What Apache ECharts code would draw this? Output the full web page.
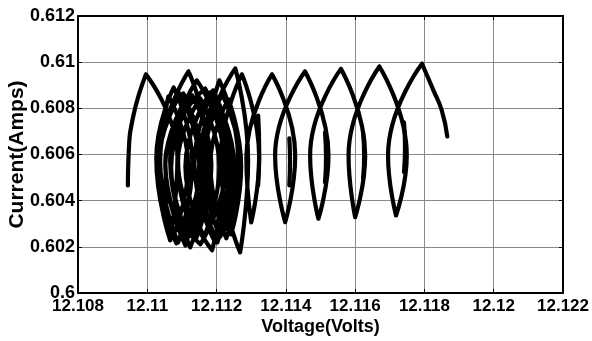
<!DOCTYPE html>
<html><head><meta charset="utf-8">
<script src="https://cdn.jsdelivr.net/npm/echarts@6/dist/echarts.min.js"></script>
<style>html,body{margin:0;padding:0;background:#fff}#c{width:592px;height:341px}</style>
</head><body><div id="c"></div>
<script>
const xTickLabels = ['12.108','12.11','12.112','12.114','12.116','12.118','12.12','12.122'];
const yTickLabels = ['0.6','0.602','0.604','0.606','0.608','0.61','0.612'];
const xMin = 12.108, xMax = 12.122, xStep = 0.002;
const yMin = 0.6, yMax = 0.612, yStep = 0.002;

// trace of the measured (voltage, current) points, in path order
const voltage = [
  12.10944, 12.10946, 12.10960, 12.10996,
  12.11087, 12.11066, 12.11026, 12.11076,
  12.11130, 12.11089, 12.11037, 12.11119,
  12.11176, 12.11124, 12.11066, 12.11143,
  12.11222, 12.11187, 12.11089, 12.11104,
  12.11153, 12.11084, 12.11032, 12.11089,
  12.11150, 12.11110, 12.11052, 12.11167,
  12.11228, 12.11153, 12.11037, 12.11061,
  12.11118, 12.11072, 12.11032, 12.11095,
  12.11150, 12.11104, 12.11052, 12.11110,
  12.11164, 12.11121, 12.11069, 12.11130,
  12.11185, 12.11141, 12.11087, 12.11153,
  12.11208, 12.11164, 12.11110, 12.11182,
  12.11237, 12.11193, 12.11136, 12.11190,
  12.11245, 12.11202, 12.11150, 12.11196,
  12.11251, 12.11211, 12.11162, 12.11216,
  12.11268, 12.11228, 12.11182, 12.11234,
  12.11271, 12.11242, 12.11164, 12.11208,
  12.11262, 12.11234, 12.11164, 12.11254,
  12.11291, 12.11268, 12.11211, 12.11273,
  12.11323, 12.11300, 12.11286, 12.11360,
  12.11427, 12.11398, 12.11369, 12.11455,
  12.11523, 12.11494, 12.11470, 12.11559,
  12.11629, 12.11600, 12.11581, 12.11670,
  12.11749, 12.11718, 12.11695, 12.11793,
  12.11826, 12.11850, 12.11866
];
const current = [
  0.60466, 0.60596, 0.60769, 0.60947,
  0.60587, 0.60228, 0.60583, 0.60890,
  0.60566, 0.60219, 0.60574, 0.60960,
  0.60583, 0.60198, 0.60574, 0.60921,
  0.60574, 0.60185, 0.60566, 0.60865,
  0.60553, 0.60215, 0.60553, 0.60873,
  0.60566, 0.60206, 0.60566, 0.60886,
  0.60566, 0.60211, 0.60557, 0.60852,
  0.60553, 0.60237, 0.60548, 0.60860,
  0.60557, 0.60228, 0.60553, 0.60834,
  0.60544, 0.60245, 0.60544, 0.60856,
  0.60553, 0.60237, 0.60553, 0.60843,
  0.60548, 0.60245, 0.60548, 0.60869,
  0.60561, 0.60228, 0.60561, 0.60877,
  0.60561, 0.60219, 0.60561, 0.60847,
  0.60548, 0.60245, 0.60548, 0.60860,
  0.60557, 0.60237, 0.60557, 0.60839,
  0.60548, 0.60254, 0.60548, 0.60921,
  0.60583, 0.60284, 0.60583, 0.60973,
  0.60574, 0.60176, 0.60574, 0.60947,
  0.60587, 0.60306, 0.60587, 0.60947,
  0.60596, 0.60307, 0.60596, 0.60960,
  0.60596, 0.60322, 0.60596, 0.60971,
  0.60596, 0.60329, 0.60596, 0.60981,
  0.60596, 0.60336, 0.60596, 0.60993,
  0.60878, 0.60791, 0.60678
];

// short retrace strokes seen inside the right-hand loops (3 points each: top, middle, bottom)
const spurVoltage = [
  12.11320, 12.11323, 12.11320,
  12.11410, 12.11412, 12.11410,
  12.11513, 12.11516, 12.11513,
  12.11623, 12.11626, 12.11623,
  12.11741, 12.11744, 12.11741
];
const spurCurrent = [
  0.60769, 0.60618, 0.60466,
  0.60670, 0.60574, 0.60466,
  0.60696, 0.60587, 0.60479,
  0.60696, 0.60596, 0.60497,
  0.60739, 0.60631, 0.60523
];

// split the trace at its cusps (turning points of the current) so each arc is smoothed on its own
const traceData = [];
for (let i = 0; i < voltage.length; i++) {
  traceData.push([voltage[i], current[i]]);
  const turning = i > 0 && i < voltage.length - 1 &&
    (current[i] - current[i - 1]) * (current[i + 1] - current[i]) < 0;
  if (turning) {
    traceData.push(['-', '-']);
    traceData.push([voltage[i], current[i]]);
  }
}
const spurData = [];
for (let i = 0; i < spurVoltage.length; i++) {
  if (i > 0 && i % 3 === 0) spurData.push(['-', '-']);
  spurData.push([spurVoltage[i], spurCurrent[i]]);
}

const font = 'Liberation Sans, Arial, sans-serif';
const chart = echarts.init(document.getElementById('c'), null, {renderer: 'canvas'});
const frameLine = {show: true, onZero: false, lineStyle: {color: '#000', width: 2}};
const tick = {show: true, inside: true, length: 4, lineStyle: {color: '#000', width: 1}};
const grid = {lineStyle: {color: '#8a8a8a', width: 1}};
const stroke = {color: '#000', width: 4.2, cap: 'round', join: 'round'};
chart.setOption({
  animation: false,
  backgroundColor: '#fff',
  grid: {left: 78, right: 29, top: 16, bottom: 48, containLabel: false, outerBoundsMode: 'none'},
  xAxis: [{
    type: 'value', min: xMin, max: xMax, interval: xStep, position: 'bottom',
    axisLine: frameLine, axisTick: tick, splitLine: Object.assign({show: true}, grid),
    axisLabel: {margin: 5, color: '#000', fontSize: 17, fontWeight: 'bold', fontFamily: font,
      formatter: v => xTickLabels[Math.round((v - xMin) / xStep)]},
    name: 'Voltage(Volts)', nameLocation: 'middle', nameGap: 25, nameMoveOverlap: false,
    nameTextStyle: {color: '#000', fontSize: 18, fontWeight: 'bold', fontFamily: font}
  }, {
    type: 'value', min: xMin, max: xMax, interval: xStep, position: 'top',
    axisLine: frameLine, axisTick: tick, axisLabel: {show: false}, splitLine: {show: false}
  }],
  yAxis: [{
    type: 'value', min: yMin, max: yMax, interval: yStep, position: 'left',
    axisLine: frameLine, axisTick: tick, splitLine: Object.assign({show: true}, grid),
    axisLabel: {margin: 3, color: '#000', fontSize: 18, fontWeight: 'bold', fontFamily: font,
      formatter: v => yTickLabels[Math.round((v - yMin) / yStep)]},
    name: 'Current(Amps)', nameLocation: 'middle', nameGap: 50, nameMoveOverlap: false,
    nameTextStyle: {color: '#000', fontSize: 21, fontWeight: 'bold', fontFamily: font}
  }, {
    type: 'value', min: yMin, max: yMax, interval: yStep, position: 'right',
    axisLine: frameLine, axisTick: tick, axisLabel: {show: false}, splitLine: {show: false}
  }],
  series: [{
    type: 'line', data: traceData, xAxisIndex: 0, yAxisIndex: 0,
    showSymbol: false, symbol: 'none', smooth: true, connectNulls: false, silent: true,
    lineStyle: stroke
  }, {
    type: 'line', data: spurData, xAxisIndex: 0, yAxisIndex: 0,
    showSymbol: false, symbol: 'none', smooth: true, connectNulls: false, silent: true,
    lineStyle: stroke
  }]
});
</script>
</body></html>
